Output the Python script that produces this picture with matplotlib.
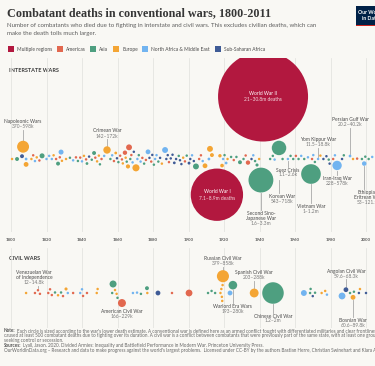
import numpy as np
import matplotlib
matplotlib.use('Agg')
import matplotlib.pyplot as plt
from matplotlib.patches import Rectangle

# ---------------- data ----------------
region_names = ['Multiple regions', 'Americas', 'Asia', 'Europe',
                'North Africa & Middle East', 'Sub-Saharan Africa']
region_codes = ['M', 'A', 'S', 'E', 'N', 'F']
region_colors = ['#B2183F', '#E2684F', '#4E9F80', '#F4A534', '#72B4F0', '#3F5B96']

inter_years = [1800.6, 1803.4, 1806.2, 1806.8, 1808.5, 1808.5, 1811.5, 1812.5, 1813.5, 1814.5,
               1816, 1817.5, 1820, 1821.5, 1823, 1824, 1825.4, 1826.5, 1827.5, 1828.2,
               1828.7, 1831, 1833.2, 1835, 1836.6, 1837.7, 1839, 1840, 1841.1, 1842.3,
               1842.8, 1844, 1845.5, 1846.8, 1847.5, 1848.5, 1849.5, 1850.1, 1851, 1852.5,
               1854.1, 1856, 1857, 1858, 1859, 1859.7, 1860.5, 1861.5, 1862.5, 1863,
               1864.2, 1864.6, 1865.2, 1865.9, 1866.5, 1867.2, 1867.8, 1868.5, 1869.2, 1870.4,
               1871.2, 1872, 1873, 1874, 1875, 1876, 1877.2, 1878, 1879, 1879.6,
               1880.5, 1881.2, 1882, 1883, 1884, 1885, 1886.8, 1887.5, 1888.3, 1889,
               1890, 1891, 1892, 1893, 1894.5, 1895.2, 1896, 1897, 1898, 1899,
               1900.3, 1901, 1902, 1903, 1904.2, 1906, 1907, 1908, 1909.3, 1911.5,
               1912.1, 1913.2, 1916, 1917.7, 1918.9, 1919.5, 1920.3, 1921.2, 1922, 1924,
               1925.5, 1927, 1929, 1931, 1932.2, 1933.5, 1935.5, 1936.5, 1937.5, 1938.6,
               1939.8, 1940.8, 1942, 1946, 1947.5, 1948.5, 1951, 1953, 1956, 1957.5,
               1959, 1960.5, 1962, 1963.5, 1965.2, 1967.3, 1969, 1969.6, 1970.3, 1971.2,
               1973, 1974.3, 1976, 1977.7, 1979, 1979.5, 1981.5, 1982.5, 1983.7, 1986.5,
               1987.5, 1991, 1992.7, 1995, 1997.7, 1999, 1999.6, 2001.5, 2003.5]
inter_deaths = [3000, 40000, 40000, 370000, 20000, 60000, 3000, 5000, 4000, 2000,
                3000, 65000, 5000, 3000, 8000, 2000, 4000, 40000, 3000, 65000,
                6000, 5000, 4000, 3000, 3000, 5000, 2000, 6000, 4000, 3000,
                20000, 2000, 3000, 40000, 8000, 6000, 4000, 3000, 2000, 4000,
                142000, 3000, 5000, 4000, 20000, 10000, 3000, 2000, 5000, 3000,
                50000, 3000, 5000, 45000, 90000, 5000, 4000, 3000, 2000, 130000,
                4000, 3000, 2000, 5000, 3000, 4000, 60000, 3000, 14000, 5000,
                3000, 4000, 3000, 5000, 3000, 2000, 90000, 3000, 4000, 2000,
                3000, 5000, 20000, 4000, 15000, 6000, 8000, 3000, 10000, 3000,
                22000, 4000, 3000, 2000, 90000, 3000, 2000, 4000, 60000, 20000,
                90000, 40000, 7100000, 30000, 35000, 5000, 4000, 20000, 3000, 2000,
                3000, 4000, 40000, 3000, 5000, 50000, 15000, 10000, 4000, 25000,
                4000, 1600000, 21000000, 3000, 3000, 8000, 543000, 2000, 1100, 2000,
                3000, 1000, 2000, 1000, 7000, 5000, 1000000, 2000, 2000, 11000,
                11500, 1500, 3000, 6000, 8000, 3000, 1000, 3000, 228000, 2000,
                1000, 20200, 2000, 1000, 2000, 53000, 1000, 2000, 5000]
inter_regions = ['E', 'S', 'F', 'E', 'N', 'E', 'E', 'A', 'N', 'E',
                 'A', 'S', 'N', 'N', 'N', 'E', 'A', 'S', 'A', 'N',
                 'E', 'E', 'S', 'N', 'A', 'S', 'A', 'N', 'E', 'A',
                 'S', 'F', 'S', 'S', 'A', 'E', 'E', 'S', 'A', 'N',
                 'E', 'S', 'N', 'A', 'E', 'F', 'S', 'A', 'A', 'E',
                 'A', 'E', 'S', 'E', 'A', 'S', 'A', 'N', 'F', 'E',
                 'N', 'S', 'N', 'A', 'S', 'A', 'N', 'F', 'A', 'F',
                 'S', 'N', 'N', 'S', 'F', 'E', 'N', 'F', 'F', 'A',
                 'F', 'F', 'F', 'F', 'S', 'F', 'F', 'E', 'A', 'S',
                 'F', 'F', 'N', 'F', 'S', 'A', 'A', 'N', 'E', 'N',
                 'E', 'E', 'M', 'E', 'E', 'N', 'S', 'N', 'E', 'S',
                 'A', 'S', 'S', 'S', 'A', 'A', 'F', 'N', 'S', 'S',
                 'E', 'S', 'M', 'S', 'S', 'N', 'S', 'S', 'N', 'S',
                 'S', 'A', 'S', 'N', 'S', 'N', 'S', 'A', 'N', 'S',
                 'N', 'E', 'F', 'F', 'S', 'F', 'A', 'N', 'N', 'F',
                 'S', 'N', 'E', 'A', 'S', 'N', 'S', 'S', 'N']

civil_years = [1808.5, 1813.5, 1815.2, 1816.3, 1821, 1822, 1823, 1824.8, 1826.5, 1828.2,
               1829.3, 1831, 1832, 1835, 1839, 1840, 1840.6, 1842.8, 1848.3, 1848.8,
               1857, 1857.5, 1858.6, 1859.5, 1860, 1862.5, 1868.7, 1871, 1873.2, 1876.6,
               1876.8, 1882.8, 1890.7, 1900.3, 1911, 1913, 1915, 1918, 1918.5, 1918.8,
               1919, 1919.2, 1919.4, 1923.4, 1925, 1937, 1947.6, 1965, 1968.5, 1968.8,
               1970, 1971.3, 1975, 1977, 1978, 1986.5, 1988.7, 1991, 1993.2, 1992.7,
               1996, 1996.6, 2000]
civil_deaths = [3000, 5000, 12000, 4000, 2000, 3000, 2000, 4000, 3000, 4000,
                3000, 25000, 3000, 3000, 3000, 2000, 3000, 3000, 4000, 3000,
                4000, 127000, 5000, 5000, 4000, 166000, 3000, 3000, 3000, 40000,
                5000, 60000, 3000, 120000, 3000, 3000, 3000, 4000, 5000, 3000,
                6000, 4000, 379000, 60000, 193000, 203000, 1200000, 90000, 4000, 3000,
                4000, 3000, 3000, 3000, 3000, 120000, 59600, 4000, 3000, 60600,
                4000, 2000, 5000]
civil_regions = ['E', 'A', 'A', 'A', 'A', 'A', 'A', 'S', 'E', 'S',
                 'A', 'E', 'N', 'A', 'N', 'N', 'A', 'A', 'E', 'E',
                 'S', 'S', 'E', 'E', 'S', 'A', 'N', 'N', 'S', 'S',
                 'E', 'F', 'A', 'A', 'S', 'S', 'S', 'E', 'E', 'E',
                 'E', 'E', 'E', 'N', 'S', 'E', 'S', 'N', 'S', 'S',
                 'F', 'S', 'E', 'E', 'N', 'N', 'F', 'S', 'S', 'E',
                 'F', 'E', 'F']

# labelled wars: (year, name, range)
inter_labels = [(1806.8, 'Napoleonic Wars', '370–598k'),
                (1854.1, 'Crimean War', '142–172k'),
                (1942, 'World War II', '21–30.8m deaths'),
                (1916, 'World War I', '7.1–8.9m deaths'),
                (1991, 'Persian Gulf War', '20.2–40.2k'),
                (1973, 'Yom Kippur War', '11.5–18.8k'),
                (1956, 'Suez Crisis', '1.1–2.6k'),
                (1951, 'Korean War', '543–718k'),
                (1969, 'Vietnam War', '1–1.2m'),
                (1940.8, 'Second Sino-\nJapanese War', '1.6–3.3m'),
                (1983.7, 'Iran-Iraq War', '228–578k'),
                (1999, 'Ethiopian-\nEritrean War', '53–121.5k')]
civil_labels = [(1815.2, 'Venezuelan War\nof Independence', '12–14.8k'),
                (1862.5, 'American Civil War', '166–229k'),
                (1919.4, 'Russian Civil War', '379–858k'),
                (1925, 'Warlord Era Wars', '193–280k'),
                (1937, 'Spanish Civil War', '203–288k'),
                (1947.6, 'Chinese Civil War', '1.2–2m'),
                (1988.7, 'Angolan Civil War', '59.6–68.3k'),
                (1992.7, 'Bosnian War', '60.6–89.8k')]

# ---------------- layout ----------------
W, H, DPI = 375, 366, 100
BG = '#F9F8F4'
PX_PER_YEAR = 355 / 200
XMIN = 1800 - 11 / PX_PER_YEAR
XMAX = XMIN + W / PX_PER_YEAR
R_MAX, D_MAX, R_MIN = 45.0, 21e6, 1.25
PAD = 1.6
FONT = 'Lato'
cmap = dict(zip(region_codes, region_colors))

# label layout: name -> (label side, first line px, dx px, circle side preference, leader start px)
inter_layout = {'Napoleonic Wars': ('above', 121.7, 0, 1, None), 'Crimean War': ('above', 131, 0, 1, None),
                'World War II': ('inside', 0, 0, 1, None), 'World War I': ('inside', 0, 0, -1, None),
                'Persian Gulf War': ('above', 119.3, 0, 1, None),
                'Yom Kippur War': ('above', 139.3, 0, 1, None),
                'Suez Crisis': ('below', 170, 0, 0, None), 'Korean War': ('below', 196.7, 3, 1, 180),
                'Vietnam War': ('below', 206.7, 0, -1, None),
                'Second Sino-\nJapanese War': ('below', 213.3, 0, -1, None),
                'Iran-Iraq War': ('below', 178.3, 0, -1, None),
                'Ethiopian-\nEritrean War': ('below', 192.7, 4, -1, None)}
civil_layout = {'Venezuelan War\nof Independence': ('above', 272.7, -4, 1, None),
                'American Civil War': ('below', 311.7, 0, -1, None),
                'Russian Civil War': ('above', 258.3, 0, 1, None),
                'Warlord Era Wars': ('below', 306.7, 0, 1, None),
                'Spanish Civil War': ('above', 272.7, 0, 0, None),
                'Chinese Civil War': ('below', 316, 0, 0, None),
                'Angolan Civil War': ('above', 271, 0, 1, None),
                'Bosnian War': ('below', 320.7, 0, -1, None)}

fig = plt.figure(figsize=(W / DPI, H / DPI), dpi=DPI, facecolor=BG)
ov = fig.add_axes([0, 0, 1, 1])
ov.set_xlim(0, W); ov.set_ylim(H, 0); ov.axis('off')


def make_ax(top, bottom, base, labels):
    ax = fig.add_axes([0, 1 - bottom / H, 1, (bottom - top) / H])
    ax.set_xlim(XMIN, XMAX)
    ax.set_ylim(base - bottom, base - top)
    ax.set_facecolor('none')
    for s in ax.spines.values():
        s.set_visible(False)
    ax.set_yticks([])
    ax.set_xticks(range(1800, 2001, 20))
    if labels:
        ax.set_xticklabels([str(y) for y in range(1800, 2001, 20)],
                           fontsize=3.2, fontweight='bold', color='#5B5B5B', family=FONT)
    else:
        ax.set_xticklabels([])
    ax.tick_params(length=0, pad=4.2)
    ax.grid(axis='x', color='#E2E2DE', lw=0.55)
    ax.set_axisbelow(True)
    return ax


def radius(d):
    return np.maximum(R_MAX * np.sqrt(np.asarray(d, float) / D_MAX), R_MIN)


def swarm(xp, r, prefer, pad=PAD):
    n = len(xp)
    y = np.zeros(n)
    order = np.lexsort((xp, r))
    placed = []
    for i in order:
        xi, ri = xp[i], r[i]
        neigh = [j for j in placed if abs(xp[j] - xi) < ri + r[j] + pad]
        cands = [0.0]
        for j in neigh:
            dd = ri + r[j] + pad
            dy = np.sqrt(max(dd * dd - (xp[j] - xi) ** 2, 0.0))
            cands += [y[j] + dy, y[j] - dy]
        if prefer[i] != 0:
            cands = [c for c in cands if c * prefer[i] >= 0]
        cands = sorted(set(cands), key=lambda c: (round(abs(c), 3), -c))
        for c in cands:
            if all((xp[j] - xi) ** 2 + (y[j] - c) ** 2 >= (ri + r[j] + pad) ** 2 - 1e-6 for j in neigh):
                y[i] = c
                break
        placed.append(i)
    return y


def find(years, r, yr):
    return int(np.argmin(np.abs(years - yr) - r * 1e-6))


def draw_swarm(ax, years, deaths, regions, labels, layout):
    years = np.asarray(years, float)
    r = radius(deaths)
    prefer = np.zeros(len(years), int)
    for yr, nm, _ in labels:
        prefer[find(years, r, yr)] = layout[nm][3]
    xp = (years - XMIN) * PX_PER_YEAR
    y = swarm(xp, r, prefer)
    order = np.argsort(-r)
    ax.scatter(years[order], y[order], s=(2 * r[order] * 72 / DPI) ** 2,
               c=[cmap[regions[i]] for i in order], linewidths=0, zorder=3)
    return years, y, r


NAME_C, RANGE_C, LINE_C = '#4A4A4A', '#7A7A7A', '#A8A8A8'
FS = 3.5
LH = 5.0


def label(ax, base, years, ys, rs, year, name, rng, spec):
    side, first_px, dx, _, line_from = spec
    i = find(years, rs, year)
    x, y, r = years[i], ys[i], rs[i]
    tx = x + dx / PX_PER_YEAR
    lines = name.split('\n')
    if side == 'inside':
        ax.text(tx, y + 2.8, name, ha='center', va='center', fontsize=FS,
                color='white', family=FONT, zorder=5)
        ax.text(tx, y - 3.4, rng, ha='center', va='center', fontsize=FS,
                color='#F3D6DE', family=FONT, zorder=5)
        return
    y_first = base - first_px
    for k, ln in enumerate(lines):
        ax.text(tx, y_first - k * LH, ln, ha='center', va='center', fontsize=FS,
                color=NAME_C, family=FONT, zorder=5)
    y_rng = y_first - len(lines) * LH
    ax.text(tx, y_rng, rng, ha='center', va='center', fontsize=FS,
            color=RANGE_C, family=FONT, zorder=5)
    if side == 'above':
        ax.plot([x, x], [y_rng - 3.3, y + r + 0.6], color=LINE_C, lw=0.6, zorder=2)
    else:
        top = y - r - 0.6 if line_from is None else base - line_from
        ax.plot([x, x], [top, y_first + 3.3], color=LINE_C, lw=0.6, zorder=2)


# interstate
B1 = 159
ax1 = make_ax(58, 232, B1, True)
iy, iys, irs = draw_swarm(ax1, inter_years, inter_deaths, inter_regions, inter_labels, inter_layout)
for yr, nm, rg in inter_labels:
    label(ax1, B1, iy, iys, irs, yr, nm, rg, inter_layout[nm])

# civil
B2 = 293
ax2 = make_ax(248, 328, B2, False)
cy, cys, crs = draw_swarm(ax2, civil_years, civil_deaths, civil_regions, civil_labels, civil_layout)
for yr, nm, rg in civil_labels:
    label(ax2, B2, cy, cys, crs, yr, nm, rg, civil_layout[nm])

# ---------------- texts ----------------
ov.text(7, 16.5, 'Combatant deaths in conventional wars, 1800-2011', fontsize=8.7,
        family='Liberation Serif', fontweight='bold', color='#363636', va='baseline')
ov.text(7, 26.8, 'Number of combatants who died due to fighting in interstate and civil wars. '
        'This excludes civilian deaths, which can', fontsize=4.4, family=FONT,
        color='#5E5E5E', va='baseline')
ov.text(7, 35.0, 'make the death tolls much larger.', fontsize=4.4, family=FONT,
        color='#5E5E5E', va='baseline')

leg_x = [8, 57, 90, 113, 142, 215]
for xx, nm, col in zip(leg_x, region_names, region_colors):
    ov.add_patch(Rectangle((xx, 45.8), 6.3, 6.3, color=col, lw=0))
    ov.text(xx + 9.3, 49.2, nm, fontsize=3.5, family=FONT, color='#4A4A4A', va='center')

ov.text(9, 70, 'INTERSTATE WARS', fontsize=4.0, family=FONT, fontweight='bold',
        color='#3A3A3A', va='center')
ov.text(9, 259, 'CIVIL WARS', fontsize=4.0, family=FONT, fontweight='bold',
        color='#3A3A3A', va='center')

# logo
ov.add_patch(Rectangle((356, 5.5), 22, 19.5, color='#002147', lw=0))
ov.add_patch(Rectangle((356, 24.5), 22, 1.8, color='#CE261E', lw=0))
ov.text(370, 12, 'Our World', fontsize=3.7, family=FONT, fontweight='bold',
        color='white', ha='center', va='center')
ov.text(370, 18.5, 'in Data', fontsize=3.7, family=FONT, fontweight='bold',
        color='white', ha='center', va='center')

# notes
renderer = fig.canvas.get_renderer()
NOTE_FS, NOTE_C = 3.35, '#666666'


def note_line(y, bold, rest):
    x = 4
    if bold:
        t = ov.text(x, y, bold, fontsize=NOTE_FS, family=FONT, fontweight='bold',
                    color='#555555', va='center')
        x += t.get_window_extent(renderer).width + 1.2
    ov.text(x, y, rest, fontsize=NOTE_FS, family=FONT, color=NOTE_C, va='center')


note_line(331, 'Note:', "Each circle is sized according to the war's lower death estimate. A conventional "
          "war is defined here as an armed conflict fought with differentiated militaries and clear frontlines that")
note_line(335.8, None, 'caused at least 500 combatant deaths due to fighting over its duration. A civil war is a '
          'conflict between combatants that were previously part of the same state, with at least one group')
note_line(340.5, None, 'seeking control or secession.')
note_line(345.2, 'Sources:', 'Lyall, Jason. 2020. Divided Armies: Inequality and Battlefield Performance in '
          'Modern War. Princeton University Press.')
note_line(350.5, None, "OurWorldInData.org – Research and data to make progress against the world's largest "
          "problems.  Licensed under CC-BY by the authors Bastian Herre, Christian Swinehart and Klara Auerbach.")

fig.savefig('out.png', dpi=DPI, facecolor=BG)
